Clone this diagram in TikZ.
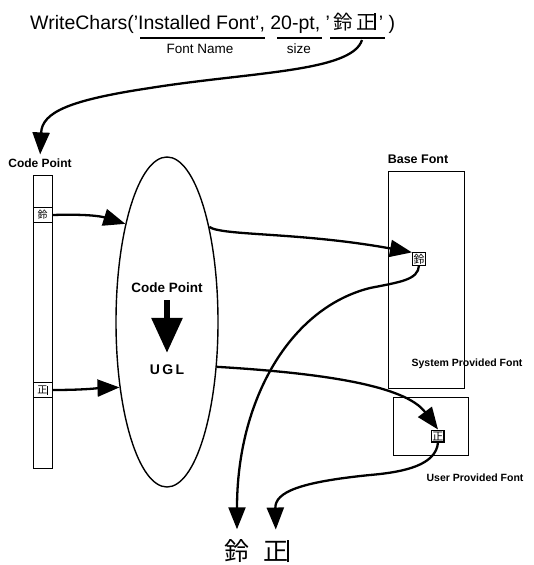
\documentclass[tikz,border=0pt]{standalone}
\usepackage{fontspec}
\setmainfont{Liberation Sans}
\newfontfamily\cjk{Noto Sans CJK JP}
\usetikzlibrary{arrows.meta,shapes.geometric}
\newcommand\fsz[1]{\fontsize{#1}{#1}\selectfont}
\newcommand\zheng{{\cjk 正}\kern-0.06em\rule[-0.06em]{0.07em}{0.9em}}
\begin{document}
\begin{tikzpicture}[x=1pt,y=-1pt,
  conn/.style={line width=2.3pt, -{Triangle[length=22pt,width=17pt]}},
  lbl/.style={font=\bfseries\fsz{12}, inner sep=0},
  tinylbl/.style={font=\bfseries\fsz{10.5}, inner sep=0},
  glyph/.style={draw, line width=1.1pt, inner sep=1pt, font=\cjk\fsz{11}},
  cell/.style={draw, line width=1pt, minimum width=19pt, minimum height=15pt, inner sep=0, font=\cjk\fsz{10}},
  frame/.style={draw, line width=1.3pt, inner sep=0},
  uline/.style={line width=2pt},
]
\useasboundingbox (0,0) rectangle (534,565);
% title
\node[anchor=base west, inner sep=0, font=\fsz{19.5}] (title) at (30,29)
  {WriteChars('Installed Font', 20-pt, '\,{\cjk 鈴}\,\zheng\,' )};
\draw[uline] (140,38) -- (265,38);
\draw[uline] (277,38) -- (322,38);
\draw[uline] (330,38) -- (385,38);
\node[font=\fsz{13.5}, inner sep=0] (fn) at (200,49) {Font Name};
\node[font=\fsz{13.5}, inner sep=0] (sz) at (299,49) {size};
\coordinate (u3) at (362,40);

% code point column
\node[lbl] (cpl) at (40,163) {Code Point};
\node[frame, minimum width=19pt, minimum height=293pt, anchor=north west] (col) at (33,175) {};
\node[cell] (c1) at (42.5,215) {鈴};
\node[cell] (c2) at (42.5,390) {\zheng};

% ellipse
\node[ellipse, draw, line width=1.4pt, minimum width=102pt, minimum height=330pt, inner sep=0] (ell) at (167,322) {};
\node[lbl, font=\bfseries\fsz{13.5}] (cp2) at (167,288) {Code Point};
\node[lbl, font=\bfseries\fsz{14}] (ugl) at (167,370) {U\,G\,L};
\draw[line width=6pt, -{Triangle[length=35pt,width=30pt]}, shorten <=7pt, shorten >=12pt] (cp2.south) -- (ugl.north);

% base font
\node[lbl, font=\bfseries\fsz{12.5}] (bfl) at (418,159) {Base Font};
\node[frame, minimum width=76pt, minimum height=217pt, anchor=north west] (base) at (388,171) {};
\node[glyph] (b1) at (419,259) {鈴};
\node[tinylbl] (spf) at (467,364) {System Provided Font};

% user font
\node[frame, minimum width=75pt, minimum height=58pt, anchor=north west] (user) at (393,397) {};
\node[glyph] (u1) at (438,436) {\zheng};
\node[tinylbl] (upf) at (475,478) {User Provided Font};

% output
\node[font=\cjk\fsz{25}, inner sep=0] (o1) at (237,551) {鈴};
\node[font=\cjk\fsz{25}, inner sep=0] (o2) at (276,551) {\zheng};

% connectors
\draw[conn, shorten >=4pt] (u3) .. controls (352,72) and (250,72) .. (150,88)
  .. controls (70,100) and (42,112) .. (cpl.north);
\draw[conn] (c1.east) .. controls (85,214) and (100,216) .. (ell.113);
\draw[conn] (c2.east) .. controls (85,390) and (100,388) .. (ell.234);
\draw[conn] (ell.66) .. controls (222,236) and (300,232) .. (b1.north west);
\draw[conn] (ell.-42) .. controls (320,373) and (405,385) .. (u1.north);
\draw[conn, shorten >=10pt] (b1.south) .. controls (418,280) and (400,282) .. (370,288)
  .. controls (290,308) and (237,400) .. (o1.north);
\draw[conn, shorten >=10pt] (u1.south) .. controls (436,465) and (405,472) .. (370,475)
  .. controls (300,482) and (275,492) .. (o2.north);
\end{tikzpicture}
\end{document}
